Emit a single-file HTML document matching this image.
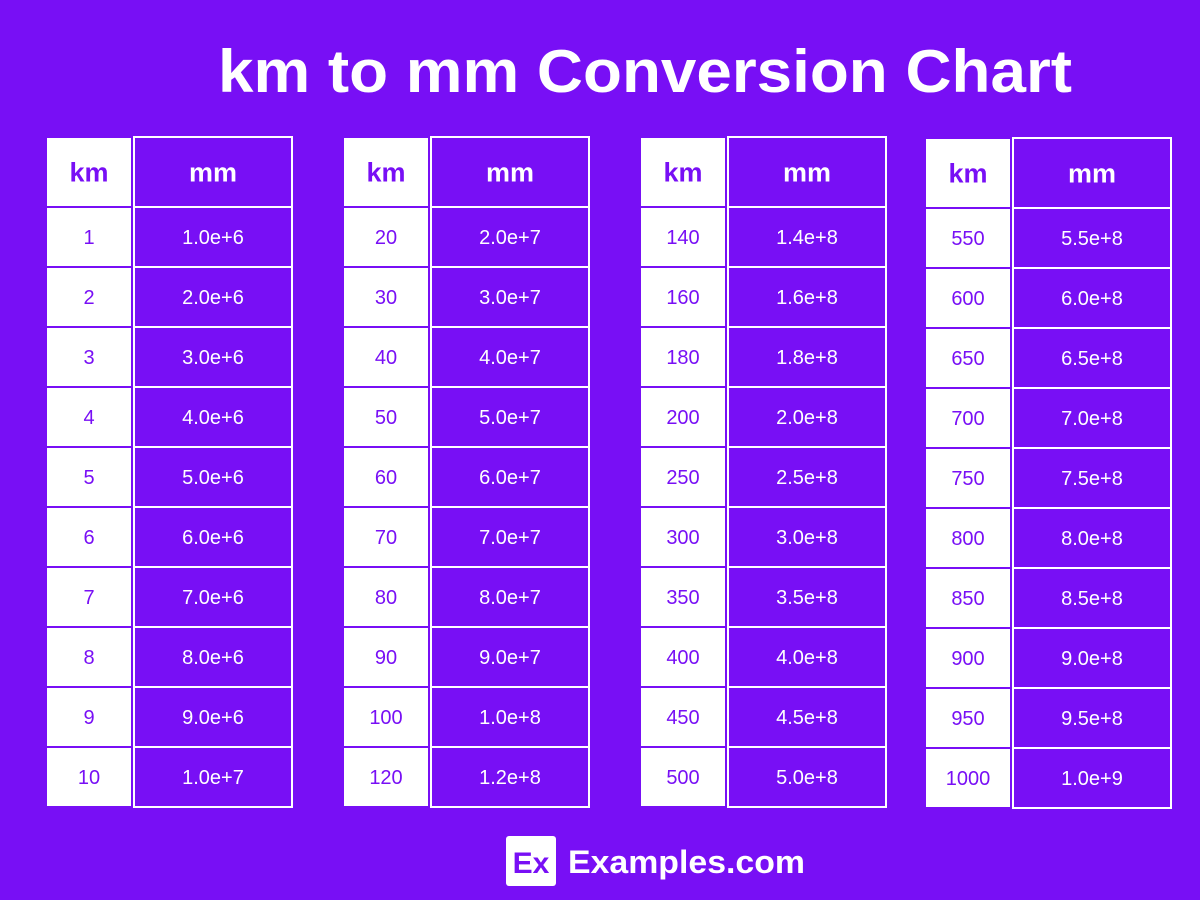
<!DOCTYPE html>
<html><head><meta charset="utf-8"><style>
html,body{margin:0;padding:0;background:#780ff5;}
svg{display:block}
text{font-family:"Liberation Sans",sans-serif}
</style></head><body>
<svg width="1200" height="900" viewBox="0 0 1200 900" xmlns="http://www.w3.org/2000/svg">
<rect width="1200" height="900" fill="#780ff5"/>
<text x="645" y="92" text-anchor="middle" font-size="60" font-weight="bold" fill="#fff" textLength="854" lengthAdjust="spacingAndGlyphs">km to mm Conversion Chart</text>
<g id="tables"></g>
<rect x="506" y="836" width="50" height="50" rx="3" fill="#fff"/>
<text x="531" y="873" text-anchor="middle" font-size="30" font-weight="bold" fill="#780ff5">Ex</text>
<text x="568" y="873" font-size="32" font-weight="bold" fill="#fff" textLength="237" lengthAdjust="spacingAndGlyphs">Examples.com</text>
</svg>
<script>
const data=[
[[1,"1.0e+6"],[2,"2.0e+6"],[3,"3.0e+6"],[4,"4.0e+6"],[5,"5.0e+6"],[6,"6.0e+6"],[7,"7.0e+6"],[8,"8.0e+6"],[9,"9.0e+6"],[10,"1.0e+7"]],
[[20,"2.0e+7"],[30,"3.0e+7"],[40,"4.0e+7"],[50,"5.0e+7"],[60,"6.0e+7"],[70,"7.0e+7"],[80,"8.0e+7"],[90,"9.0e+7"],[100,"1.0e+8"],[120,"1.2e+8"]],
[[140,"1.4e+8"],[160,"1.6e+8"],[180,"1.8e+8"],[200,"2.0e+8"],[250,"2.5e+8"],[300,"3.0e+8"],[350,"3.5e+8"],[400,"4.0e+8"],[450,"4.5e+8"],[500,"5.0e+8"]],
[[550,"5.5e+8"],[600,"6.0e+8"],[650,"6.5e+8"],[700,"7.0e+8"],[750,"7.5e+8"],[800,"8.0e+8"],[850,"8.5e+8"],[900,"9.0e+8"],[950,"9.5e+8"],[1000,"1.0e+9"]]];
const xs=[47,344,641,926],ys=[137,137,137,138];
let s="";
data.forEach((rows,t)=>{
 const x=xs[t],y0=ys[t];
 const cells=[["km","mm",70,true]].concat(rows.map(r=>[r[0],r[1],60,false]));
 let y=y0;
 cells.forEach((c,i)=>{
  const h=c[2];
  s+=`<rect x="${x}" y="${y+1}" width="84" height="${h-2}" fill="#fff"/>`;
  s+=`<rect x="${x+87}" y="${y}" width="158" height="${h}" fill="none" stroke="#fff" stroke-width="2"/>`;
  const fs=c[3]?27:20, fw=c[3]?"bold":"normal", ty=y+h/2+fs*0.36;
  s+=`<text x="${x+42}" y="${ty}" text-anchor="middle" font-size="${fs}" font-weight="${fw}" fill="#780ff5">${c[0]}</text>`;
  s+=`<text x="${x+166}" y="${ty}" text-anchor="middle" font-size="${fs}" font-weight="${fw}" fill="#fff">${c[1]}</text>`;
  y+=h;
 });
});
document.getElementById("tables").innerHTML=s;
</script>
</body></html>
